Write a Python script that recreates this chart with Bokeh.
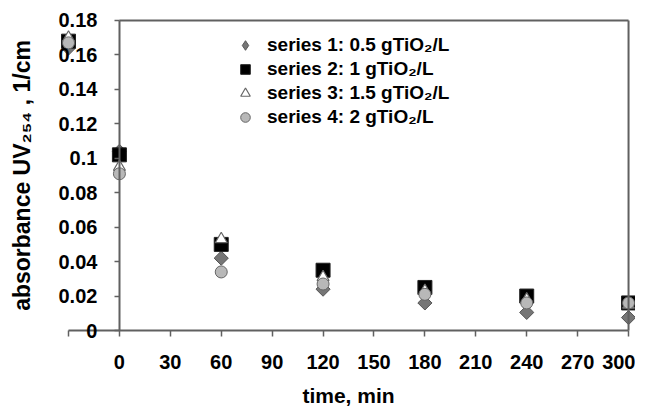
import numpy as np
from bokeh.plotting import figure
from bokeh.models import (FixedTicker, CustomJSTickFormatter, Range1d, ColumnDataSource,
                          Legend, LegendItem)
from bokeh.embed import file_html
from bokeh.resources import INLINE

# ---- data ----
time_min = [-30, 0, 60, 120, 180, 240, 300]
series1 = [0.164, 0.104, 0.042, 0.024, 0.016, 0.0105, 0.0075]   # 0.5 gTiO2/L
series2 = [0.168, 0.102, 0.050, 0.035, 0.025, 0.020, 0.016]     # 1 gTiO2/L
series3 = [0.170, 0.095, 0.053, 0.031, 0.023, 0.018, 0.015]     # 1.5 gTiO2/L
series4 = [0.167, 0.091, 0.034, 0.027, 0.021, 0.016, 0.016]     # 2 gTiO2/L
labels = ["series 1: 0.5 gTiO\u2082/L", "series 2: 1 gTiO\u2082/L",
          "series 3: 1.5 gTiO\u2082/L", "series 4: 2 gTiO\u2082/L"]
x_ticks = [-30, 0, 30, 60, 90, 120, 150, 180, 210, 240, 270, 300]
y_ticks = [0, 0.02, 0.04, 0.06, 0.08, 0.1, 0.12, 0.14, 0.16, 0.18]

FONT = "Liberation Sans"
AX = "#606060"

p = figure(width=635, height=414, output_backend="svg", toolbar_location=None,
           x_range=Range1d(-70.07, 304.1), y_range=Range1d(-0.04877, 0.19161),
           min_border=0)
p.outline_line_color = None
p.xgrid.visible = False
p.ygrid.visible = False
p.background_fill_color = "white"

# x axis drawn at absorbance = 0
xa = p.xaxis[0]
xa.fixed_location = 0
xa.bounds = (x_ticks[0], x_ticks[-1])
xa.ticker = FixedTicker(ticks=x_ticks)
xa.formatter = CustomJSTickFormatter(code="return tick < 0 ? '' : tick.toFixed(0);")
xa.major_tick_out = 6
xa.major_tick_in = 0
xa.minor_tick_line_color = None
xa.axis_line_color = AX
xa.major_tick_line_color = AX
xa.axis_line_width = 2
xa.major_tick_line_width = 1.5
xa.major_label_text_font = FONT
xa.major_label_text_font_style = "bold"
xa.major_label_text_font_size = "20px"
xa.major_label_text_color = "black"
xa.major_label_standoff = 18
xa.axis_label = "time, min"
xa.axis_label_text_font = FONT
xa.axis_label_text_font_style = "bold"
xa.axis_label_text_font_size = "21px"
xa.axis_label_text_color = "black"
xa.axis_label_standoff = 12

# y axis drawn at time = 0
ya = p.yaxis[0]
ya.fixed_location = 0
ya.bounds = (y_ticks[0], y_ticks[-1])
ya.ticker = FixedTicker(ticks=y_ticks)
ya.formatter = CustomJSTickFormatter(
    code="return tick.toFixed(2).replace(/0+$/, '').replace(/\\.$/, '');")
ya.major_tick_out = 5
ya.major_tick_in = 0
ya.minor_tick_line_color = None
ya.axis_line_color = AX
ya.major_tick_line_color = AX
ya.axis_line_width = 2
ya.major_tick_line_width = 1.5
ya.major_label_text_font = FONT
ya.major_label_text_font_style = "bold"
ya.major_label_text_font_size = "20px"
ya.major_label_text_color = "black"
ya.major_label_standoff = 17
ya.axis_label = "absorbance UV\u2082\u2085\u2084 , 1/cm"
ya.axis_label_text_font = FONT
ya.axis_label_text_font_style = "bold"
ya.axis_label_text_font_size = "23px"
ya.axis_label_text_color = "black"
ya.axis_label_standoff = 21

# markers
src1 = ColumnDataSource(dict(x=time_min, y=series1))
r1 = p.scatter("x", "y", source=src1, marker="square", angle=np.pi / 4, size=10,
               fill_color="#767676", line_color="#555555", line_width=1)
r2 = p.scatter(time_min, series2, marker="square", size=14,
               fill_color="black", line_color="#222222", line_width=1)
r3 = p.scatter(time_min, series3, marker="triangle", size=12,
               fill_color="white", line_color="#666666", line_width=1.2)
r4 = p.scatter(time_min, series4, marker="circle", size=12,
               fill_color="#b8b8b8", line_color="#666666", line_width=1)

# plot-area border (top and right)
p.segment(x0=[x_ticks[1], x_ticks[-1]], y0=[y_ticks[-1], y_ticks[-1]],
          x1=[x_ticks[-1], x_ticks[-1]], y1=[y_ticks[-1], y_ticks[0]],
          line_color=AX, line_width=2)

# legend swatch for series 1 (diamond shape like the data markers)
leg1 = p.scatter(x=[float("nan")], y=[float("nan")], marker="diamond", size=14,
                 fill_color="#767676", line_color="#555555", line_width=1)

lg = Legend(items=[LegendItem(label=labels[0], renderers=[leg1]),
                   LegendItem(label=labels[1], renderers=[r2]),
                   LegendItem(label=labels[2], renderers=[r3]),
                   LegendItem(label=labels[3], renderers=[r4])],
            location=(233, 285))
lg.border_line_color = None
lg.background_fill_alpha = 0
lg.padding = 0
lg.margin = 0
lg.spacing = 0
lg.glyph_width = 24
lg.glyph_height = 24
lg.label_height = 24
lg.label_standoff = 10
lg.label_text_font = FONT
lg.label_text_font_style = "bold"
lg.label_text_font_size = "19px"
lg.label_text_color = "black"
p.add_layout(lg, "center")

open("out.html", "w").write(file_html(p, INLINE))
